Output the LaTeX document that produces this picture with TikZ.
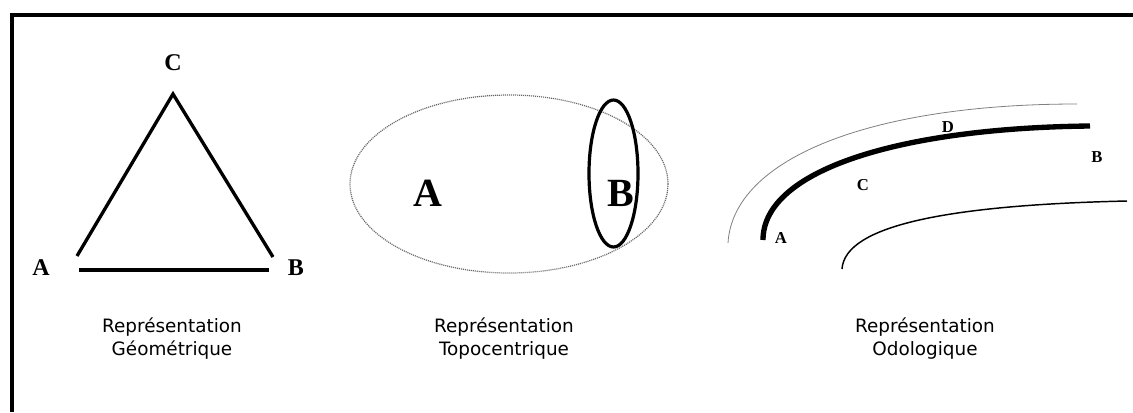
\documentclass[tikz,border=0pt]{standalone}
\usepackage{fontspec}
\setmainfont{Liberation Serif}
\newfontfamily\capfont{DejaVu Sans}
\begin{document}
\begin{tikzpicture}[x=0.75pt,y=-0.75pt,
  frameline/.style={line width=2.3pt,black},
  triline/.style={line width=2.5pt,black},
  trilbl/.style={font=\fontsize{18}{20}\selectfont\bfseries,inner sep=0pt},
  biglbl/.style={font=\fontsize{30}{32}\selectfont\bfseries,inner sep=0pt},
  smalllbl/.style={font=\fontsize{12.5}{14}\selectfont\bfseries,inner sep=0pt},
  caption/.style={font=\capfont\fontsize{13.8}{17.3}\selectfont,align=center,inner sep=0pt},
  dottedell/.style={line width=0.9pt,black!60,dash pattern=on 0.8pt off 0.7pt},
  thickell/.style={line width=2.4pt,black},
  road/.style={line width=4pt,black},
  outerroad/.style={line width=0.6pt,gray},
  innerroad/.style={line width=1.1pt,black}]
\useasboundingbox (0,0) rectangle (1133,412);
\fill[white] (0,0) rectangle (1133,412);
% frame
\coordinate (fbl) at (12,412);
\coordinate (ftl) at (12,15);
\coordinate (ftr) at (1133,15);
\draw[frameline] (fbl) -- (ftl) -- (ftr);
% triangle
\coordinate (tC1) at (77,256);
\coordinate (tC2) at (173,94);
\coordinate (tC3) at (273,257);
\coordinate (tB1) at (79,270);
\coordinate (tB2) at (269,270);
\draw[triline] (tC1) -- (tC2) -- (tC3);
\draw[triline] (tB1) -- (tB2);
\node[trilbl] (lC) at (173,63) {C};
\node[trilbl] (lA) at (41,268) {A};
\node[trilbl] (lB) at (296,268) {B};
\node[caption] (cap1) at (172,339) {Représentation\\Géométrique};
% topocentric
\coordinate (bigc) at (509,184);
\coordinate (smallc) at (613.5,173.5);
\draw[dottedell] (bigc) ellipse [x radius=159, y radius=89];
\draw[thickell] (smallc) ellipse [x radius=24.5, y radius=73.5];
\node[biglbl] (tA) at (428,193) {A};
\node[biglbl] (tB) at (621,193) {B};
\node[caption] (cap2) at (504,339) {Représentation\\Topocentrique};
% odologic
\coordinate (rA) at (763,240);
\coordinate (rB) at (1090,126);
\draw[road] (rA) .. controls (763,170) and (900,128) .. (rB);
\coordinate (oS) at (728,243);
\coordinate (oE) at (1077,104);
\draw[outerroad] (oS) .. controls (733,158) and (872,104) .. (oE);
\coordinate (iS) at (842,269);
\coordinate (iE) at (1127,201);
\draw[innerroad] (iS) .. controls (845,225) and (950,205) .. (iE);
\node[smalllbl] (oA) at (781,238) {A};
\node[smalllbl] (oC) at (863,185) {C};
\node[smalllbl] (oD) at (948,127) {D};
\node[smalllbl] (oB) at (1097,157) {B};
\node[caption] (cap3) at (925,339) {Représentation\\Odologique};
\end{tikzpicture}
\end{document}
